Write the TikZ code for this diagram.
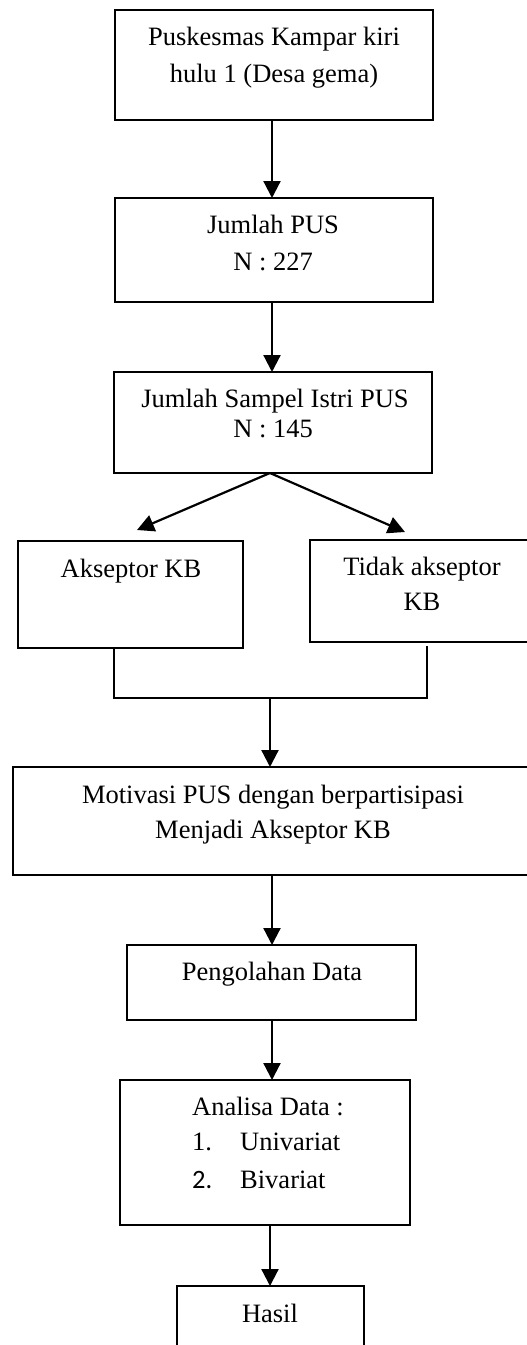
\documentclass[tikz,border=0pt]{standalone}
\usepackage{fontspec}
\setmainfont{Liberation Serif}
\newfontfamily\numfont{Carlito}
\usetikzlibrary{arrows.meta}
\begin{document}
\begin{tikzpicture}[x=1pt,y=-1pt,
 box/.style={draw, line width=2pt, rectangle, inner sep=0pt, outer sep=0pt, anchor=north west},
 txt/.style={inner sep=0pt, anchor=base, font=\fontsize{26.5}{32}\selectfont},
 ltxt/.style={inner sep=0pt, anchor=base west, font=\fontsize{26.5}{32}\selectfont},
 arr/.style={line width=2.2pt, -{Triangle[length=17pt,width=17pt]}},
 ln/.style={line width=2.2pt}]
\useasboundingbox (0,0) rectangle (527,1345);
\clip (0,0) rectangle (527,1345);
% boxes
\node[box, minimum width=318pt, minimum height=110pt] (b1) at (115,10) {};
\node[box, minimum width=318pt, minimum height=104pt] (b2) at (115,198) {};
\node[box, minimum width=318pt, minimum height=101pt] (b3) at (114,372) {};
\node[box, minimum width=225pt, minimum height=107pt] (b4) at (18,541) {};
\node[box, minimum width=240pt, minimum height=102pt] (b5) at (310,540) {};
\node[box, minimum width=530pt, minimum height=108pt] (b6) at (13,767) {};
\node[box, minimum width=289pt, minimum height=75pt] (b7) at (127,945) {};
\node[box, minimum width=290pt, minimum height=145pt] (b8) at (120,1080) {};
\node[box, minimum width=187pt, minimum height=80pt] (b9) at (177,1286) {};
% texts
\node[txt] (t1a) at (274,45) {Puskesmas Kampar kiri};
\node[txt] (t1b) at (274,82) {hulu 1 (Desa gema)};
\node[txt] (t2a) at (273,233) {Jumlah PUS};
\node[txt] (t2b) at (273,270) {N : 227};
\node[txt] (t3a) at (275,407) {Jumlah Sampel Istri PUS};
\node[txt] (t3b) at (273,437) {N : 145};
\node[txt] (t4) at (131,577) {Akseptor KB};
\node[txt] (t5a) at (422,575) {Tidak akseptor};
\node[txt] (t5b) at (422,610) {KB};
\node[txt] (t6a) at (273,803) {Motivasi PUS dengan berpartisipasi};
\node[txt] (t6b) at (273,838) {Menjadi Akseptor KB};
\node[txt] (t7) at (272,980) {Pengolahan Data};
\node[ltxt] (t8a) at (192,1115) {Analisa Data :};
\node[ltxt] (t8b) at (192,1150) {1.};
\node[ltxt] (t8c) at (240,1150) {Univariat};
\node[ltxt] (t8d) at (192,1188) {\numfont 2.};
\node[ltxt] (t8e) at (240,1188) {Bivariat};
\node[txt] (t9) at (270,1322) {Hasil};
% connectors
\coordinate (ax) at (272,0);
\coordinate (tl) at (137,530);
\coordinate (tr) at (405,532);
\coordinate (jl) at (114,698);
\coordinate (jr) at (427,698);
\coordinate (jrt) at (427,646);
\coordinate (jm) at (270,698);
\coordinate (bx) at (270,0);
\draw[arr] (b1.south -| ax) -- (b2.north -| ax);
\draw[arr] (b2.south -| ax) -- (b3.north -| ax);
\draw[arr] (b3.south -| bx) -- (tl);
\draw[arr] (b3.south -| bx) -- (tr);
\draw[ln] (b4.south -| jl) -- (jl) -- (jr) -- (jrt);
\draw[arr] (jm) -- (jm |- b6.north);
\draw[arr] (b6.south -| ax) -- (b7.north -| ax);
\draw[arr] (b7.south -| ax) -- (b8.north -| ax);
\draw[arr] (b8.south -| bx) -- (b9.north -| bx);
\end{tikzpicture}
\end{document}
